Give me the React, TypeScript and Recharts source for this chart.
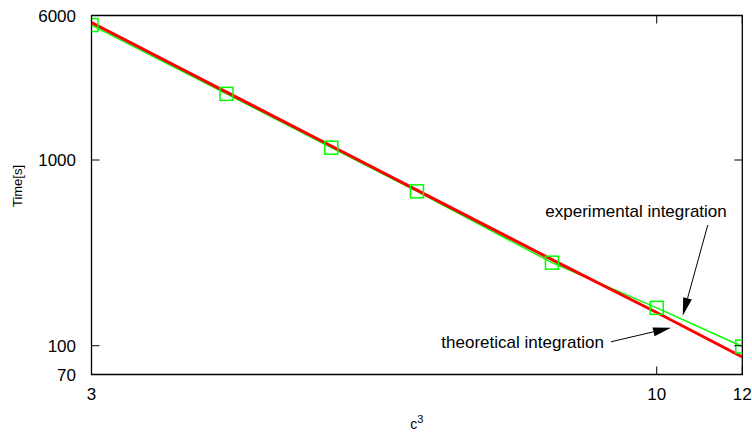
import { ComposedChart, Line, XAxis, YAxis, ReferenceArea, ReferenceLine, Label } from 'recharts';

// c values and measured / predicted run times in seconds
const cValues = [3, 4, 5, 6, 8, 10, 12];
const experimentalTime = [5330, 2270, 1165, 678, 280, 160, 99];
const theoreticalTime = [5500, 2320, 1190, 688, 291, 151, 87];

const xTicks = [3, 10, 12];
const yTicks = [70, 100, 1000, 6000];

const data = cValues.map((c, i) => ({
  c,
  experimental: experimentalTime[i],
  theoretical: theoreticalTime[i],
}));

const W = 752;
const H = 435;
const margin = { top: 15.5, right: 9.7, bottom: 30.5, left: 11.5 };
const PLOT_TOP = margin.top;
const PLOT_RIGHT = W - margin.right;
const FONT = '"Liberation Sans", Arial, sans-serif';
const TICK_LEN = 8;

const YTick = (props: any) => {
  const { x, y, payload } = props;
  return (
    <g>
      <text x={x - 15.5} y={y} dy={6} textAnchor="end" fontSize={17} fontFamily={FONT} fill="#000">
        {payload.value}
      </text>
      <line x1={x} y1={y} x2={x + TICK_LEN} y2={y} stroke="#000" strokeWidth={1} />
      <line x1={PLOT_RIGHT} y1={y} x2={PLOT_RIGHT - TICK_LEN} y2={y} stroke="#000" strokeWidth={1} />
    </g>
  );
};

const XTick = (props: any) => {
  const { x, y, payload } = props;
  return (
    <g>
      <text x={x} y={y + 25.5} textAnchor="middle" fontSize={17} fontFamily={FONT} fill="#000">
        {payload.value}
      </text>
      <line x1={x} y1={y} x2={x} y2={y - TICK_LEN} stroke="#000" strokeWidth={1} />
      <line x1={x} y1={PLOT_TOP} x2={x} y2={PLOT_TOP + TICK_LEN} stroke="#000" strokeWidth={1} />
    </g>
  );
};

const Square = (props: any) => {
  const { cx, cy, index } = props;
  if (cx == null || cy == null) return <g key={index} />;
  return (
    <rect key={index} x={cx - 6.5} y={cy - 6.5} width={13} height={13}
      fill="none" stroke="#00ff00" strokeWidth={1.5} />
  );
};

// arrow with a filled head and its caption anchored near the tail
const arrow = (caption: string, anchor: 'start' | 'end', dx: number, dy: number) => (p: any) => {
  const { x1, y1, x2, y2 } = p;
  const a = Math.atan2(y2 - y1, x2 - x1);
  const len = 18;
  const half = 4.5;
  const bx = x2 - len * Math.cos(a);
  const by = y2 - len * Math.sin(a);
  const pts = [
    `${x2},${y2}`,
    `${bx + half * Math.sin(a)},${by - half * Math.cos(a)}`,
    `${bx - half * Math.sin(a)},${by + half * Math.cos(a)}`,
  ].join(' ');
  return (
    <g>
      <line x1={x1} y1={y1} x2={bx} y2={by} stroke="#000" strokeWidth={1} />
      <polygon points={pts} fill="#000" />
      <text x={x1 + dx} y={y1 + dy} textAnchor={anchor} fontSize={17} fontFamily={FONT} fill="#000">
        {caption}
      </text>
    </g>
  );
};

const XLabel = (props: any) => {
  const { viewBox } = props;
  const cx = viewBox.x + viewBox.width / 2;
  return (
    <text x={cx + 0} y={429} textAnchor="middle" fontSize={14} fontFamily={FONT} fill="#000">
      c<tspan dy={-6} fontSize={11}>3</tspan>
    </text>
  );
};

const YLabel = () => (
  <text x={0} y={0} transform="translate(22,186) rotate(-90)" textAnchor="middle"
    fontSize={13} fontFamily={FONT} fill="#000">
    Time[s]
  </text>
);

export default function App() {
  return (
    <div style={{ width: W, height: H, background: '#fff' }}>
      <style>{'body{margin:0}'}</style>
      <ComposedChart width={W} height={H} data={data} margin={margin}>
        <XAxis dataKey="c" type="number" scale="log" domain={[3, 12]} ticks={xTicks}
          allowDataOverflow axisLine={false} tickLine={false} tickSize={0} tickMargin={0}
          tick={<XTick />} height={30} interval={0}>
          <Label content={<XLabel />} />
        </XAxis>
        <YAxis type="number" scale="log" domain={[70, 6000]} ticks={yTicks}
          allowDataOverflow axisLine={false} tickLine={false} tickSize={0} tickMargin={0}
          tick={<YTick />} width={80} interval={0}>
          <Label content={<YLabel />} />
        </YAxis>
        <ReferenceArea x1={3} x2={12} y1={70} y2={6000} fill="none" stroke="#000" strokeWidth={1.3} />
        <Line dataKey="experimental" stroke="#00ff00" strokeWidth={1.5} dot={false}
          isAnimationActive={false} />
        <Line dataKey="theoretical" stroke="#ff0000" strokeWidth={3} dot={false}
          isAnimationActive={false} />
        <Line dataKey="experimental" stroke="none" dot={<Square />} activeDot={false}
          isAnimationActive={false} />
        <ReferenceLine segment={[{ x: 11.15, y: 447 }, { x: 10.57, y: 145 }]}
          shape={arrow('experimental integration', 'end', 19, -8)} />
        <ReferenceLine segment={[{ x: 9.07, y: 105 }, { x: 10.31, y: 125 }]}
          shape={arrow('theoretical integration', 'end', -7, 6)} />
      </ComposedChart>
    </div>
  );
}
